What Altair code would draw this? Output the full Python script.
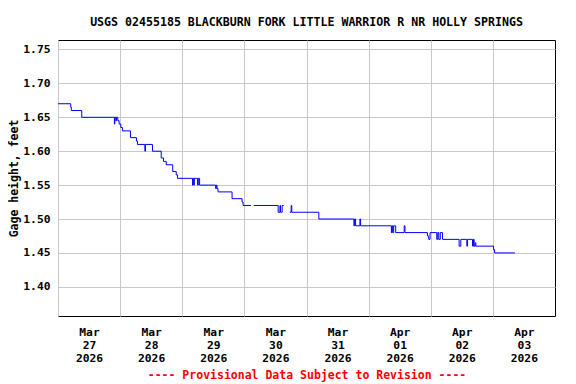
import altair as alt
import pandas as pd

# Change points: hours since 2026-03-27 00:00, gage height (ft), segment id
hours = [0.0, 4.92, 5.15, 9.17, 21.79, 21.95, 22.34, 22.57, 23.11, 23.61, 24.27, 24.89,
         27.99, 30.31, 30.70, 33.56, 33.79, 36.50, 39.87, 40.76, 41.81, 44.32, 45.68, 46.18,
         51.99, 52.18, 52.45, 52.65, 53.92, 54.19, 54.70, 60.89, 61.16, 61.43, 61.82,
         67.24, 71.11, 71.50, 74.60,
         75.60, 85.05, 85.74, 85.94, 86.59, 87.21,
         89.54, 90.08, 90.31, 100.76, 114.31, 114.58, 114.97, 116.63, 116.90,
         128.79, 129.02, 129.29, 129.68, 130.45, 133.74, 134.05, 142.72, 143.23, 143.73,
         146.32, 146.71, 147.10, 147.68, 148.53, 154.96, 155.61, 157.94, 158.21,
         160.14, 160.53, 160.76, 161.15, 161.42, 168.27, 168.66, 176.52]
gage = [1.67, 1.665, 1.66, 1.65, 1.64, 1.65, 1.645, 1.65, 1.645, 1.64, 1.635, 1.63,
        1.62, 1.615, 1.61, 1.60, 1.61, 1.60, 1.59, 1.585, 1.58, 1.57, 1.565, 1.56,
        1.55, 1.56, 1.55, 1.56, 1.55, 1.56, 1.55, 1.545, 1.55, 1.545, 1.54,
        1.53, 1.525, 1.52, 1.52,
        1.52, 1.51, 1.52, 1.51, 1.52, 1.52,
        1.51, 1.52, 1.51, 1.50, 1.49, 1.50, 1.49, 1.50, 1.49,
        1.48, 1.49, 1.48, 1.49, 1.48, 1.49, 1.48, 1.475, 1.47, 1.48,
        1.47, 1.48, 1.47, 1.48, 1.47, 1.46, 1.47, 1.46, 1.47,
        1.46, 1.47, 1.46, 1.465, 1.46, 1.455, 1.45, 1.45]
segment = [1] * 39 + [2] * 6 + [3] * 36

y_ticks = [1.40, 1.45, 1.50, 1.55, 1.60, 1.65, 1.70, 1.75]
day_labels = ["2026-03-27", "2026-03-28", "2026-03-29", "2026-03-30",
              "2026-03-31", "2026-04-01", "2026-04-02", "2026-04-03"]
x_start, x_end = "2026-03-27", "2026-04-04"
y_domain = [1.357, 1.764]

start = pd.Timestamp(x_start, tz="UTC")
df = pd.DataFrame({
    "time": [(start + pd.Timedelta(hours=h)).strftime("%Y-%m-%dT%H:%M:%SZ") for h in hours],
    "gage": gage,
    "seg": segment,
})

def ms(d):
    return int(pd.Timestamp(d, tz="UTC").timestamp() * 1000)

FONT = "DejaVu Sans Mono"

chart = alt.Chart(df).mark_line(
    interpolate="step-after", color="#0000ff", strokeWidth=1
).encode(
    x=alt.X("time:T",
            scale=alt.Scale(type="utc", domain=[ms(x_start), ms(x_end)], nice=False),
            axis=alt.Axis(
                values=[ms(d) for d in day_labels],
                labelExpr="[utcFormat(datum.value, '%b'), utcFormat(datum.value, '%d'), utcFormat(datum.value, '%Y')]",
                labelOffset=31, labelFlush=False, labelOverlap=False, labelBound=False,
                labelFont=FONT, labelFontSize=11.3, labelFontWeight="bold", labelColor="black",
                labelLineHeight=13, labelPadding=10, labelBaseline="top",
                ticks=False, domain=False,
                grid=True, gridColor="#c8c8c8", gridWidth=1,
                title="---- Provisional Data Subject to Revision ----",
                titleFont=FONT, titleFontSize=11.5, titleFontWeight="bold",
                titleColor="#ff0000", titlePadding=6,
            )),
    y=alt.Y("gage:Q",
            scale=alt.Scale(domain=y_domain, nice=False, zero=False),
            axis=alt.Axis(
                values=y_ticks, format=".2f",
                labelFont=FONT, labelFontSize=11.3, labelFontWeight="bold", labelColor="black",
                labelPadding=8, ticks=False, domain=False,
                grid=True, gridColor="#c8c8c8", gridWidth=1,
                title="Gage height, feet",
                titleFont=FONT, titleFontSize=11.5, titleFontWeight="bold",
                titleColor="black", titlePadding=3,
            )),
    detail="seg:N",
).properties(
    width=497, height=276,
    autosize=alt.AutoSizeParams(type="none"),
    padding={"left": 50, "top": 32, "right": 13, "bottom": 68},
    title=alt.TitleParams(
        text="USGS 02455185 BLACKBURN FORK LITTLE WARRIOR R NR HOLLY SPRINGS",
        font=FONT, fontSize=11.6, fontWeight="bold", color="black",
        anchor="middle", offset=11,
    ),
).configure_view(stroke="black", strokeWidth=1)

chart.save("out.html", embed_options={"renderer": "svg", "actions": False})
